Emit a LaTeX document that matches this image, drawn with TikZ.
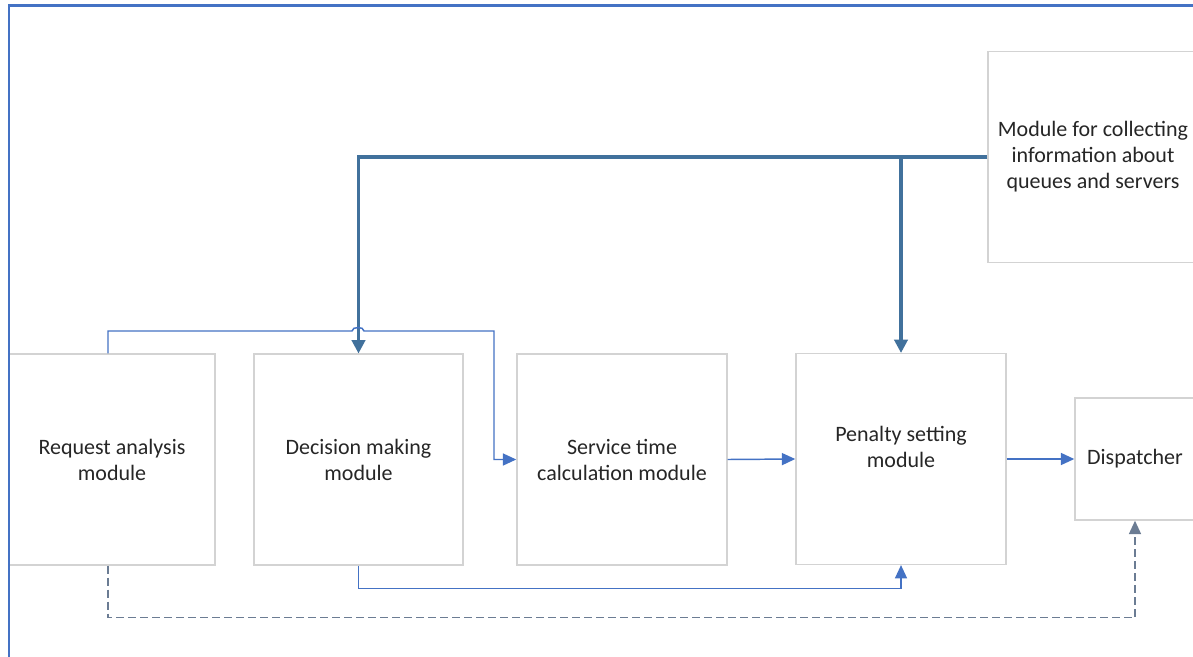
\documentclass[tikz,border=0pt]{standalone}
\usepackage{fontspec}
\setmainfont{Carlito}
\usetikzlibrary{arrows.meta,calc}
\definecolor{frameblue}{HTML}{4472C4}
\definecolor{thinblue}{HTML}{4472C4}
\definecolor{thickblue}{HTML}{41719C}
\definecolor{dashgray}{HTML}{6B7C93}
\definecolor{boxgray}{HTML}{D3D3D3}
\definecolor{txt}{HTML}{262626}
\tikzset{
  modbox/.style={draw=boxgray, line width=1.1pt, fill=white, minimum width=157.5pt, minimum height=158pt, inner sep=0pt, align=center, text=txt, font=\fontsize{16.5}{19.5}\selectfont},
  thinarrow/.style={draw=thinblue, line width=1.1pt, -{Triangle[length=10pt,width=9pt]}},
  thickline/.style={draw=thickblue, line width=2.3pt},
  thickarrow/.style={thickline, -{Triangle[length=10pt,width=10pt]}},
  dasharrow/.style={draw=dashgray, line width=1.1pt, dash pattern=on 6pt off 3pt, -{Triangle[length=10pt,width=9pt]}}
}
\begin{document}
\begin{tikzpicture}[x=0.75pt,y=-0.75pt]
\useasboundingbox (0,0) rectangle (1193,657);
\fill[white] (0,0) rectangle (1193,657);
% boxes
\node[modbox, minimum width=154.5pt] (req) at (112,459.5) {Request analysis\\module};
\node[modbox, minimum width=156.75pt] (dec) at (358.5,459.5) {Decision making\\module};
\node[modbox] (serv) at (622,459.5) {Service time\\calculation module};
\node[modbox, label={[yshift=9pt, align=center, text=txt, font=\fontsize{16.5}{19.5}\selectfont]center:Penalty setting\\module}] (pen) at (901,459) {};
\node[modbox, minimum width=90pt, minimum height=91.5pt] (dis) at (1135,459) {Dispatcher};
\node[modbox] (coll) at (1093,157) {Module for collecting\\information about\\queues and servers};
% frame
\draw[frameblue, line width=2.2pt] (1200,5.5) -- (9,5.5) -- (9,665);
% thick connectors
\draw[thickarrow] (coll.west) -| (dec.north);
\coordinate (br) at (pen.north |- coll.west);
\draw[thickarrow] (br) -- (pen.north);
% thin connectors
\coordinate (rt) at (108,331);
\coordinate (hopL) at (352,331);
\coordinate (hopR) at (364,331);
\coordinate (turn) at (494,331);
\draw[thinarrow] (req.north -| rt) -- (rt) -- (hopL) to[out=90,in=90] (hopR) -- (turn) |- (serv.west);
\draw[thinarrow] (serv.east) -- (pen.west);
\draw[thinarrow] (pen.east) -- (dis.west);
\draw[thinarrow] (dec.south) -- ++(0,23) -| (pen.south);
% dashed
\draw[dasharrow] (req.south -| rt) -- ++(0,52) -| (dis.south);
\end{tikzpicture}
\end{document}
